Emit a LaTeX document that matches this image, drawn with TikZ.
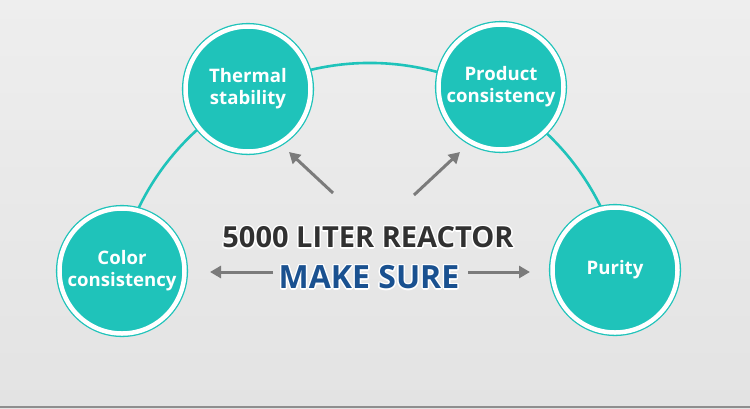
\documentclass[tikz,border=0pt]{standalone}
\usepackage{fontspec}
\setmainfont{Open Sans}
\usepackage{contour}
\contourlength{1.3pt}
\usetikzlibrary{arrows.meta}
\definecolor{tealc}{HTML}{1FC3BA}
\definecolor{arrgray}{HTML}{7B7B7B}
\definecolor{darktxt}{HTML}{313131}
\definecolor{bluetxt}{HTML}{1A5190}
\definecolor{bgtop}{HTML}{EEEEEE}
\definecolor{bgmid}{HTML}{F2F2F2}
\definecolor{bgbot}{HTML}{E3E3E3}
\definecolor{edgegray}{HTML}{8E8E8E}
\begin{document}
\begin{tikzpicture}[x=1pt,y=-1pt]\tikzset{bubble/.style = {shape=circle, fill=tealc, draw=tealc, double=white, double distance=4.5pt, line width=1.3pt, minimum size=125pt, inner sep=0pt, align=center, text=white, font=\bfseries\fontsize{18.6}{22}\selectfont}, arr/.style = {-{Triangle[length=11pt,width=12pt]}, line width=3pt, draw=arrgray}, title/.style = {font=\bfseries\fontsize{29}{34}\selectfont, inner sep=0pt}}

		\shade[top color=bgtop, middle color=bgmid, bottom color=bgbot] (0,0) rectangle (750,408);
		\fill[edgegray] (0,405.5) rectangle (750,408);
		\useasboundingbox (0,0) rectangle (750,408);

		\coordinate (O) at (370,320);
		\draw[tealc, line width=2.6pt] (O) ++(192:257) arc[start angle=192, end angle=348, radius=257];

		\node[bubble] (thermal) at (248,89) {Thermal\\stability};
		\node[bubble] (product) at (501,87) {Product\\consistency};
		\node[bubble] (color) at (122,271) {Color\\consistency};
		\node[bubble] (purity) at (615,270) {Purity};

		\coordinate (UL_1) at (333,193);
		\coordinate (UL_2) at (289,152);
		\coordinate (UR_1) at (414,195);
		\coordinate (UR_2) at (460,152);
		\coordinate (L_1) at (273,272);
		\coordinate (L_2) at (210,272);
		\coordinate (R_1) at (468,272);
		\coordinate (R_2) at (530,272);

		\draw[arr] (UL_1) -- (UL_2);
		\draw[arr] (UR_1) -- (UR_2);
		\draw[arr] (L_1) -- (L_2);
		\draw[arr] (R_1) -- (R_2);

		\node[title, text=darktxt] (reactor) at (368,238) {\contour{white}{5000 LITER REACTOR}};
		\node[title, text=bluetxt, font=\bfseries\fontsize{32}{36}\selectfont] (sure) at (369,278) {\contour{white}{MAKE SURE}};
	\end{tikzpicture}
\end{document}
